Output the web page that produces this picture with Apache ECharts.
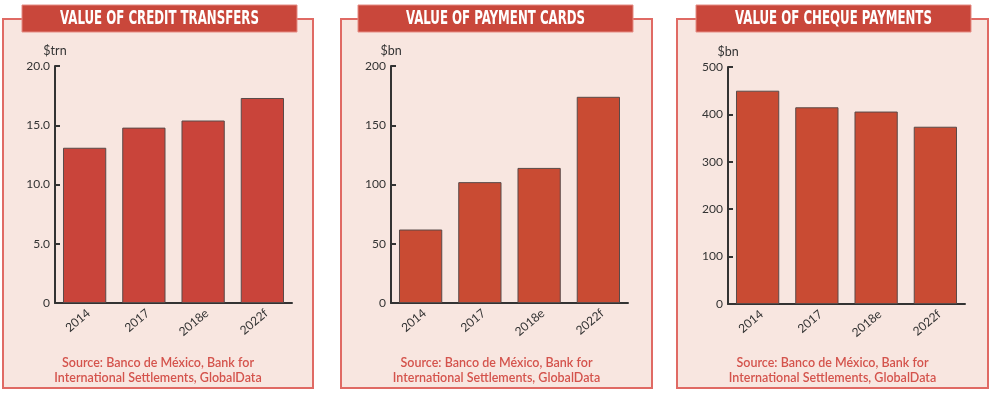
<!DOCTYPE html>
<html>
<head>
<meta charset="utf-8">
<script src="https://cdn.jsdelivr.net/npm/echarts@6/dist/echarts.min.js"></script>
<style>
html,body{margin:0;padding:0;background:#fff;}
#c{width:993px;height:393px;}
</style>
</head>
<body>
<div id="c"></div>
<script>
var categories = ['2014', '2017', '2018e', '2022f'];
var creditTransfers = [13.1, 14.8, 15.4, 17.3];
var paymentCards = [62, 102, 114, 174];
var chequePayments = [450, 415, 406, 374];
var titles = ['VALUE OF CREDIT TRANSFERS', 'VALUE OF PAYMENT CARDS', 'VALUE OF CHEQUE PAYMENTS'];
var units = ['$trn', '$bn', '$bn'];
var sourceText = 'Source: Banco de México, Bank for\nInternational Settlements, GlobalData';

var chart = echarts.init(document.getElementById('c'));

var panels = [
  {x: 3, w: 310, tx: 22, tw: 275, gl: 55, gt: 66, gh: 237, max: 20, step: 5, dec: 1, data: creditTransfers, color: '#C9443A'},
  {x: 341, w: 311, tx: 358, tw: 275, gl: 391, gt: 66, gh: 237, max: 200, step: 50, dec: 0, data: paymentCards, color: '#C94B33'},
  {x: 677, w: 311, tx: 696, tw: 275, gl: 728, gt: 67, gh: 237, max: 500, step: 100, dec: 0, data: chequePayments, color: '#C94B33'}
];

var graphics = [];
var grids = [], xAxes = [], yAxes = [], series = [];
panels.forEach(function (p, i) {
  graphics.push({type: 'rect', shape: {x: p.x, y: 19, width: p.w, height: 369}, style: {fill: '#F8E6E0', stroke: '#E06A64', lineWidth: 2}, z: -10});
  graphics.push({type: 'rect', shape: {x: p.tx, y: 5, width: p.tw, height: 27}, style: {fill: '#C9473B', stroke: '#E58C84', lineWidth: 1}, z: -5});
  graphics.push({type: 'text', x: p.tx + p.tw / 2, y: 19, scaleX: 0.69, originX: 0, style: {text: titles[i], fill: '#fff', font: 'bold 19px "Liberation Sans Narrow", "DejaVu Sans Condensed", sans-serif', align: 'center', verticalAlign: 'middle'}, z: 5});
  graphics.push({type: 'text', x: p.x + p.w / 2, y: 370, style: {text: sourceText, fill: '#D4534C', font: '600 12.5px Lato, sans-serif', align: 'center', verticalAlign: 'middle', lineHeight: 15}, z: 5});
  grids.push({left: p.gl, top: p.gt, width: 237, height: p.gh});
  xAxes.push({
    type: 'category', gridIndex: i, data: categories,
    axisLine: {lineStyle: {color: '#333', width: 2}},
    axisTick: {show: false},
    axisLabel: {rotate: 40, margin: 4, verticalAlign: 'top', color: '#333', fontSize: 12, fontFamily: 'Lato'}
  });
  yAxes.push({
    type: 'value', gridIndex: i, min: 0, max: p.max, interval: p.step,
    name: units[i], nameLocation: 'end', nameGap: 9,
    nameTextStyle: {color: '#333', fontSize: 12.5, fontFamily: 'Lato', align: 'center'},
    axisLine: {show: true, lineStyle: {color: '#333', width: 2}},
    axisTick: {show: true, inside: true, length: 5, lineStyle: {color: '#333', width: 2}},
    splitLine: {show: false},
    axisLabel: {margin: 5, color: '#333', fontSize: 12, fontFamily: 'Lato',
      formatter: (function (d) { return function (v) { return v === 0 ? '0' : v.toFixed(d); }; })(p.dec)}
  });
  series.push({
    type: 'bar', xAxisIndex: i, yAxisIndex: i, data: p.data,
    barCategoryGap: '27%',
    itemStyle: {color: p.color, borderColor: '#5a4a48', borderWidth: 1},
    silent: true
  });
});

chart.setOption({
  animation: false,
  backgroundColor: '#fff',
  graphic: graphics,
  grid: grids,
  xAxis: xAxes,
  yAxis: yAxes,
  series: series
});
</script>
</body>
</html>
